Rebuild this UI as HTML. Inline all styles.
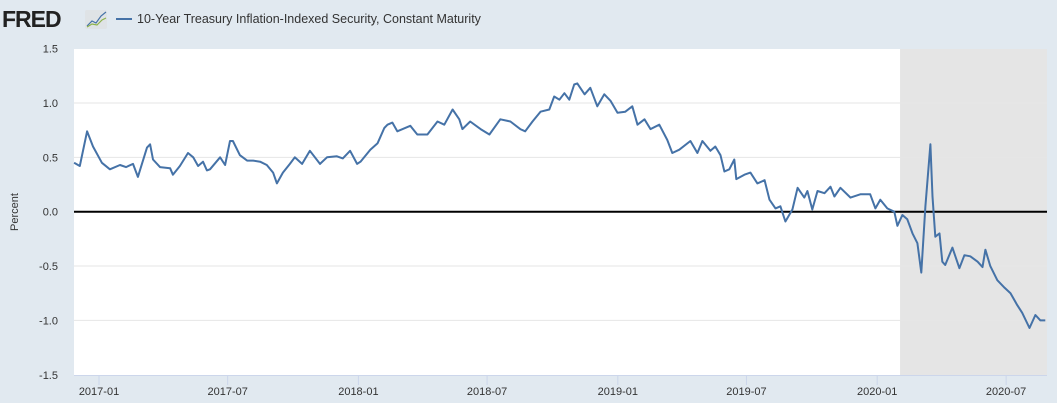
<!DOCTYPE html>
<html><head><meta charset="utf-8"><style>
body{margin:0;width:1057px;height:403px;background:#e1e9f0;overflow:hidden;font-family:"Liberation Sans",sans-serif;}
svg{position:absolute;left:0;top:0;}
</style></head><body>
<svg id="c" width="1057" height="403">
  <g>
    <text x="2" y="27" font-size="23" font-weight="bold" fill="#222" letter-spacing="-1">FRED</text>
    <rect x="85" y="10" width="22" height="19" rx="2" fill="#dfe3e6"/>
    <polyline points="87,26 92,21 96,23 101,16 106,12" fill="none" stroke="#4572a7" stroke-width="1.2"/>
    <polyline points="87,27 92,24 97,25 102,20 106,18" fill="none" stroke="#8db34a" stroke-width="1.2"/>
  </g>
  <line x1="116" y1="19" x2="132" y2="19" stroke="#4572a7" stroke-width="2"/>
  <text x="137" y="23" font-size="12.5" fill="#333">10-Year Treasury Inflation-Indexed Security, Constant Maturity</text>
  <rect x="74" y="49" width="973" height="326" fill="#fff"/>
  <g id="rec"></g><g id="grid"></g><g id="xax"></g><g id="series"></g>
  <text transform="translate(18,212) rotate(-90)" text-anchor="middle" font-size="11" fill="#333">Percent</text>
</svg>
<script>
const yTicks=[1.5,1.0,0.5,0.0,-0.5,-1.0,-1.5];
const yTickLabels=["1.5","1.0","0.5","0.0","-0.5","-1.0","-1.5"];
const xTicks=[2017.0,2017.496,2018.0,2018.496,2019.0,2019.496,2020.0,2020.497];
const xTickLabels=["2017-01","2017-07","2018-01","2018-07","2019-01","2019-07","2020-01","2020-07"];
const recessionStart=2020.088;
const recessionEnd=2020.70;
const dates=[2016.904,2016.926,2016.954,2016.977,2017.011,2017.042,2017.081,2017.104,2017.131,2017.150,2017.185,2017.197,2017.208,2017.235,2017.274,2017.285,2017.312,2017.343,2017.363,2017.382,2017.401,2017.416,2017.428,2017.467,2017.486,2017.505,2017.516,2017.543,2017.571,2017.594,2017.621,2017.647,2017.671,2017.686,2017.709,2017.736,2017.755,2017.783,2017.813,2017.852,2017.879,2017.917,2017.940,2017.968,2017.995,2018.008,2018.046,2018.074,2018.100,2018.112,2018.131,2018.150,2018.200,2018.227,2018.266,2018.305,2018.331,2018.363,2018.389,2018.401,2018.431,2018.471,2018.505,2018.547,2018.586,2018.624,2018.643,2018.671,2018.702,2018.736,2018.755,2018.775,2018.794,2018.813,2018.832,2018.844,2018.872,2018.894,2018.921,2018.948,2018.972,2018.999,2019.029,2019.056,2019.076,2019.103,2019.126,2019.160,2019.191,2019.210,2019.237,2019.280,2019.307,2019.326,2019.357,2019.376,2019.396,2019.411,2019.430,2019.449,2019.457,2019.488,2019.511,2019.538,2019.566,2019.585,2019.608,2019.627,2019.646,2019.673,2019.693,2019.719,2019.731,2019.750,2019.770,2019.797,2019.820,2019.835,2019.858,2019.897,2019.935,2019.973,2019.993,2020.012,2020.039,2020.066,2020.078,2020.097,2020.116,2020.136,2020.155,2020.170,2020.186,2020.205,2020.213,2020.224,2020.240,2020.251,2020.262,2020.290,2020.317,2020.336,2020.359,2020.387,2020.406,2020.417,2020.436,2020.463,2020.491,2020.514,2020.540,2020.559,2020.587,2020.610,2020.629,2020.648];
const values=[0.45,0.42,0.74,0.60,0.45,0.39,0.43,0.41,0.44,0.32,0.59,0.62,0.48,0.41,0.40,0.34,0.42,0.54,0.50,0.42,0.46,0.38,0.39,0.50,0.43,0.65,0.65,0.52,0.47,0.47,0.46,0.43,0.36,0.26,0.36,0.44,0.50,0.44,0.56,0.44,0.50,0.51,0.49,0.56,0.44,0.46,0.57,0.63,0.77,0.80,0.82,0.74,0.79,0.71,0.71,0.83,0.80,0.94,0.85,0.76,0.83,0.76,0.71,0.85,0.83,0.76,0.74,0.83,0.92,0.94,1.06,1.03,1.09,1.03,1.17,1.18,1.08,1.14,0.97,1.08,1.02,0.91,0.92,0.97,0.80,0.85,0.76,0.80,0.66,0.54,0.57,0.65,0.54,0.65,0.56,0.60,0.52,0.37,0.39,0.48,0.30,0.34,0.36,0.26,0.29,0.11,0.03,0.05,-0.09,0.02,0.22,0.13,0.19,0.02,0.19,0.17,0.23,0.14,0.22,0.13,0.16,0.16,0.03,0.11,0.03,0.00,-0.13,-0.03,-0.07,-0.20,-0.29,-0.56,0.05,0.62,0.14,-0.23,-0.20,-0.46,-0.49,-0.33,-0.52,-0.40,-0.41,-0.46,-0.51,-0.35,-0.50,-0.63,-0.70,-0.75,-0.86,-0.93,-1.07,-0.95,-1.00,-1.00];

const NS="http://www.w3.org/2000/svg";
const L=74,R=1047,T=49,B=375;
const xs=t=>Math.max(L,Math.min(R,99+(t-2017)*259.4));
const ys=v=>211.7-v*108.7;
function mk(tag,attrs,parent){const e=document.createElementNS(NS,tag);for(const k in attrs)e.setAttribute(k,attrs[k]);parent.appendChild(e);return e;}

const rec=document.getElementById('rec');
const rr=mk('rect',{x:xs(recessionStart),y:T,width:xs(recessionEnd)-xs(recessionStart),height:B-T,fill:'#e5e5e5'},rec);



const grid=document.getElementById('grid');
yTicks.forEach((v,i)=>{
  if(v!==0 && v!==-1.5 && v!==1.5){
    const g=mk('line',{x1:L,x2:R,y1:ys(v),y2:ys(v),stroke:'#e6e6e6','stroke-width':1},grid);
    
    
  }
  const t=mk('text',{x:58,y:ys(v)+4,'text-anchor':'end','font-size':11,fill:'#333'},grid);
  t.textContent=yTickLabels[i];
  
  
});
const zl=mk('line',{x1:L,x2:R,y1:ys(0),y2:ys(0),stroke:'#000','stroke-width':2},grid);



const xax=document.getElementById('xax');
const ax=mk('line',{x1:L,x2:R,y1:B+0.5,y2:B+0.5,stroke:'#ccd6eb','stroke-width':1},xax);


xTicks.forEach((t,i)=>{
  const x=xs(t);
  const tk=mk('line',{x1:x,x2:x,y1:B,y2:B+10,stroke:'#ccd6eb','stroke-width':1},xax);
  
  
  const lb=mk('text',{x:x,y:395,'text-anchor':'middle','font-size':11,fill:'#333'},xax);
  lb.textContent=xTickLabels[i];
  
  
});

const series=document.getElementById('series');
const pts=dates.map((d,i)=>xs(d).toFixed(1)+','+ys(values[i]).toFixed(1)).join(' ');
const pl=mk('polyline',{points:pts,fill:'none',stroke:'#4572a7','stroke-width':2,'stroke-linejoin':'round'},series);


</script>
</body></html>
